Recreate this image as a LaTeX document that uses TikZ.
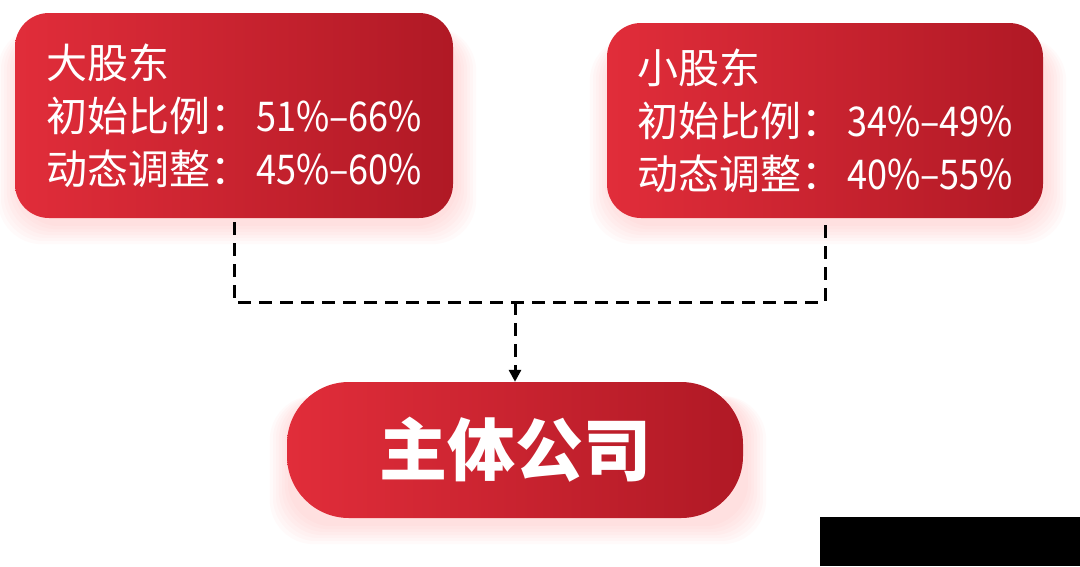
\documentclass[tikz,border=0pt]{standalone}
\usepackage{fontspec}
\setmainfont{Noto Sans CJK SC}
\newfontfamily\numfont[FakeStretch=0.88]{Noto Sans CJK SC}
\usepackage{xcolor}
\usetikzlibrary{arrows.meta,backgrounds,positioning}
\definecolor{boxlight}{RGB}{225,45,58}
\definecolor{boxdark}{RGB}{176,25,37}
\newcommand{\share}[1]{\hspace{5pt}{\numfont #1}}
\tikzset{
 holder/.style={rounded corners=34pt,left color=boxlight,right color=boxdark,
  text=white,align=left,font=\fontsize{41}{53}\selectfont},
 glow/.style={fill=red!55,fill opacity=0.035,rounded corners=44pt},
 link/.style={line width=3pt,dash pattern=on 13pt off 8pt}
}
\begin{document}
\begin{tikzpicture}[x=1pt,y=-1pt]
\useasboundingbox (0,0) rectangle (1080,566);
\node[holder,minimum width=438pt,minimum height=205pt] (big) at (234,115.5)
 {大股东\\初始比例：\share{51\%–66\%}\\动态调整：\share{45\%–60\%}};
\node[holder,minimum width=436pt,minimum height=195pt] (small) at (825,120.5)
 {小股东\\初始比例：\share{34\%–49\%}\\动态调整：\share{40\%–55\%}};
\node[holder,rounded corners=62pt,minimum width=456pt,minimum height=136pt,align=center,
 font=\fontsize{68}{68}\selectfont\bfseries] (main) at (515,450) {主体公司};
\begin{scope}[on background layer]
\foreach \n in {big,small,main}
 \foreach \s in {2,5,...,20}
  \fill[glow] ([shift={(-\s pt+3pt,-14pt)}]\n.north west)
   rectangle ([shift={(\s pt+3pt,-\s pt-6pt)}]\n.south east);
\end{scope}
\coordinate (join) at (main.north |- 0,302);
\draw[link] ([yshift=-4pt]big.south) |- (join) -| ([yshift=-4pt]small.south);
\draw[link,-{Triangle[width=12pt,length=12pt]}] (join) -- (main.north);
\fill[black] (820,517) rectangle (1080,566);
\end{tikzpicture}
\end{document}
